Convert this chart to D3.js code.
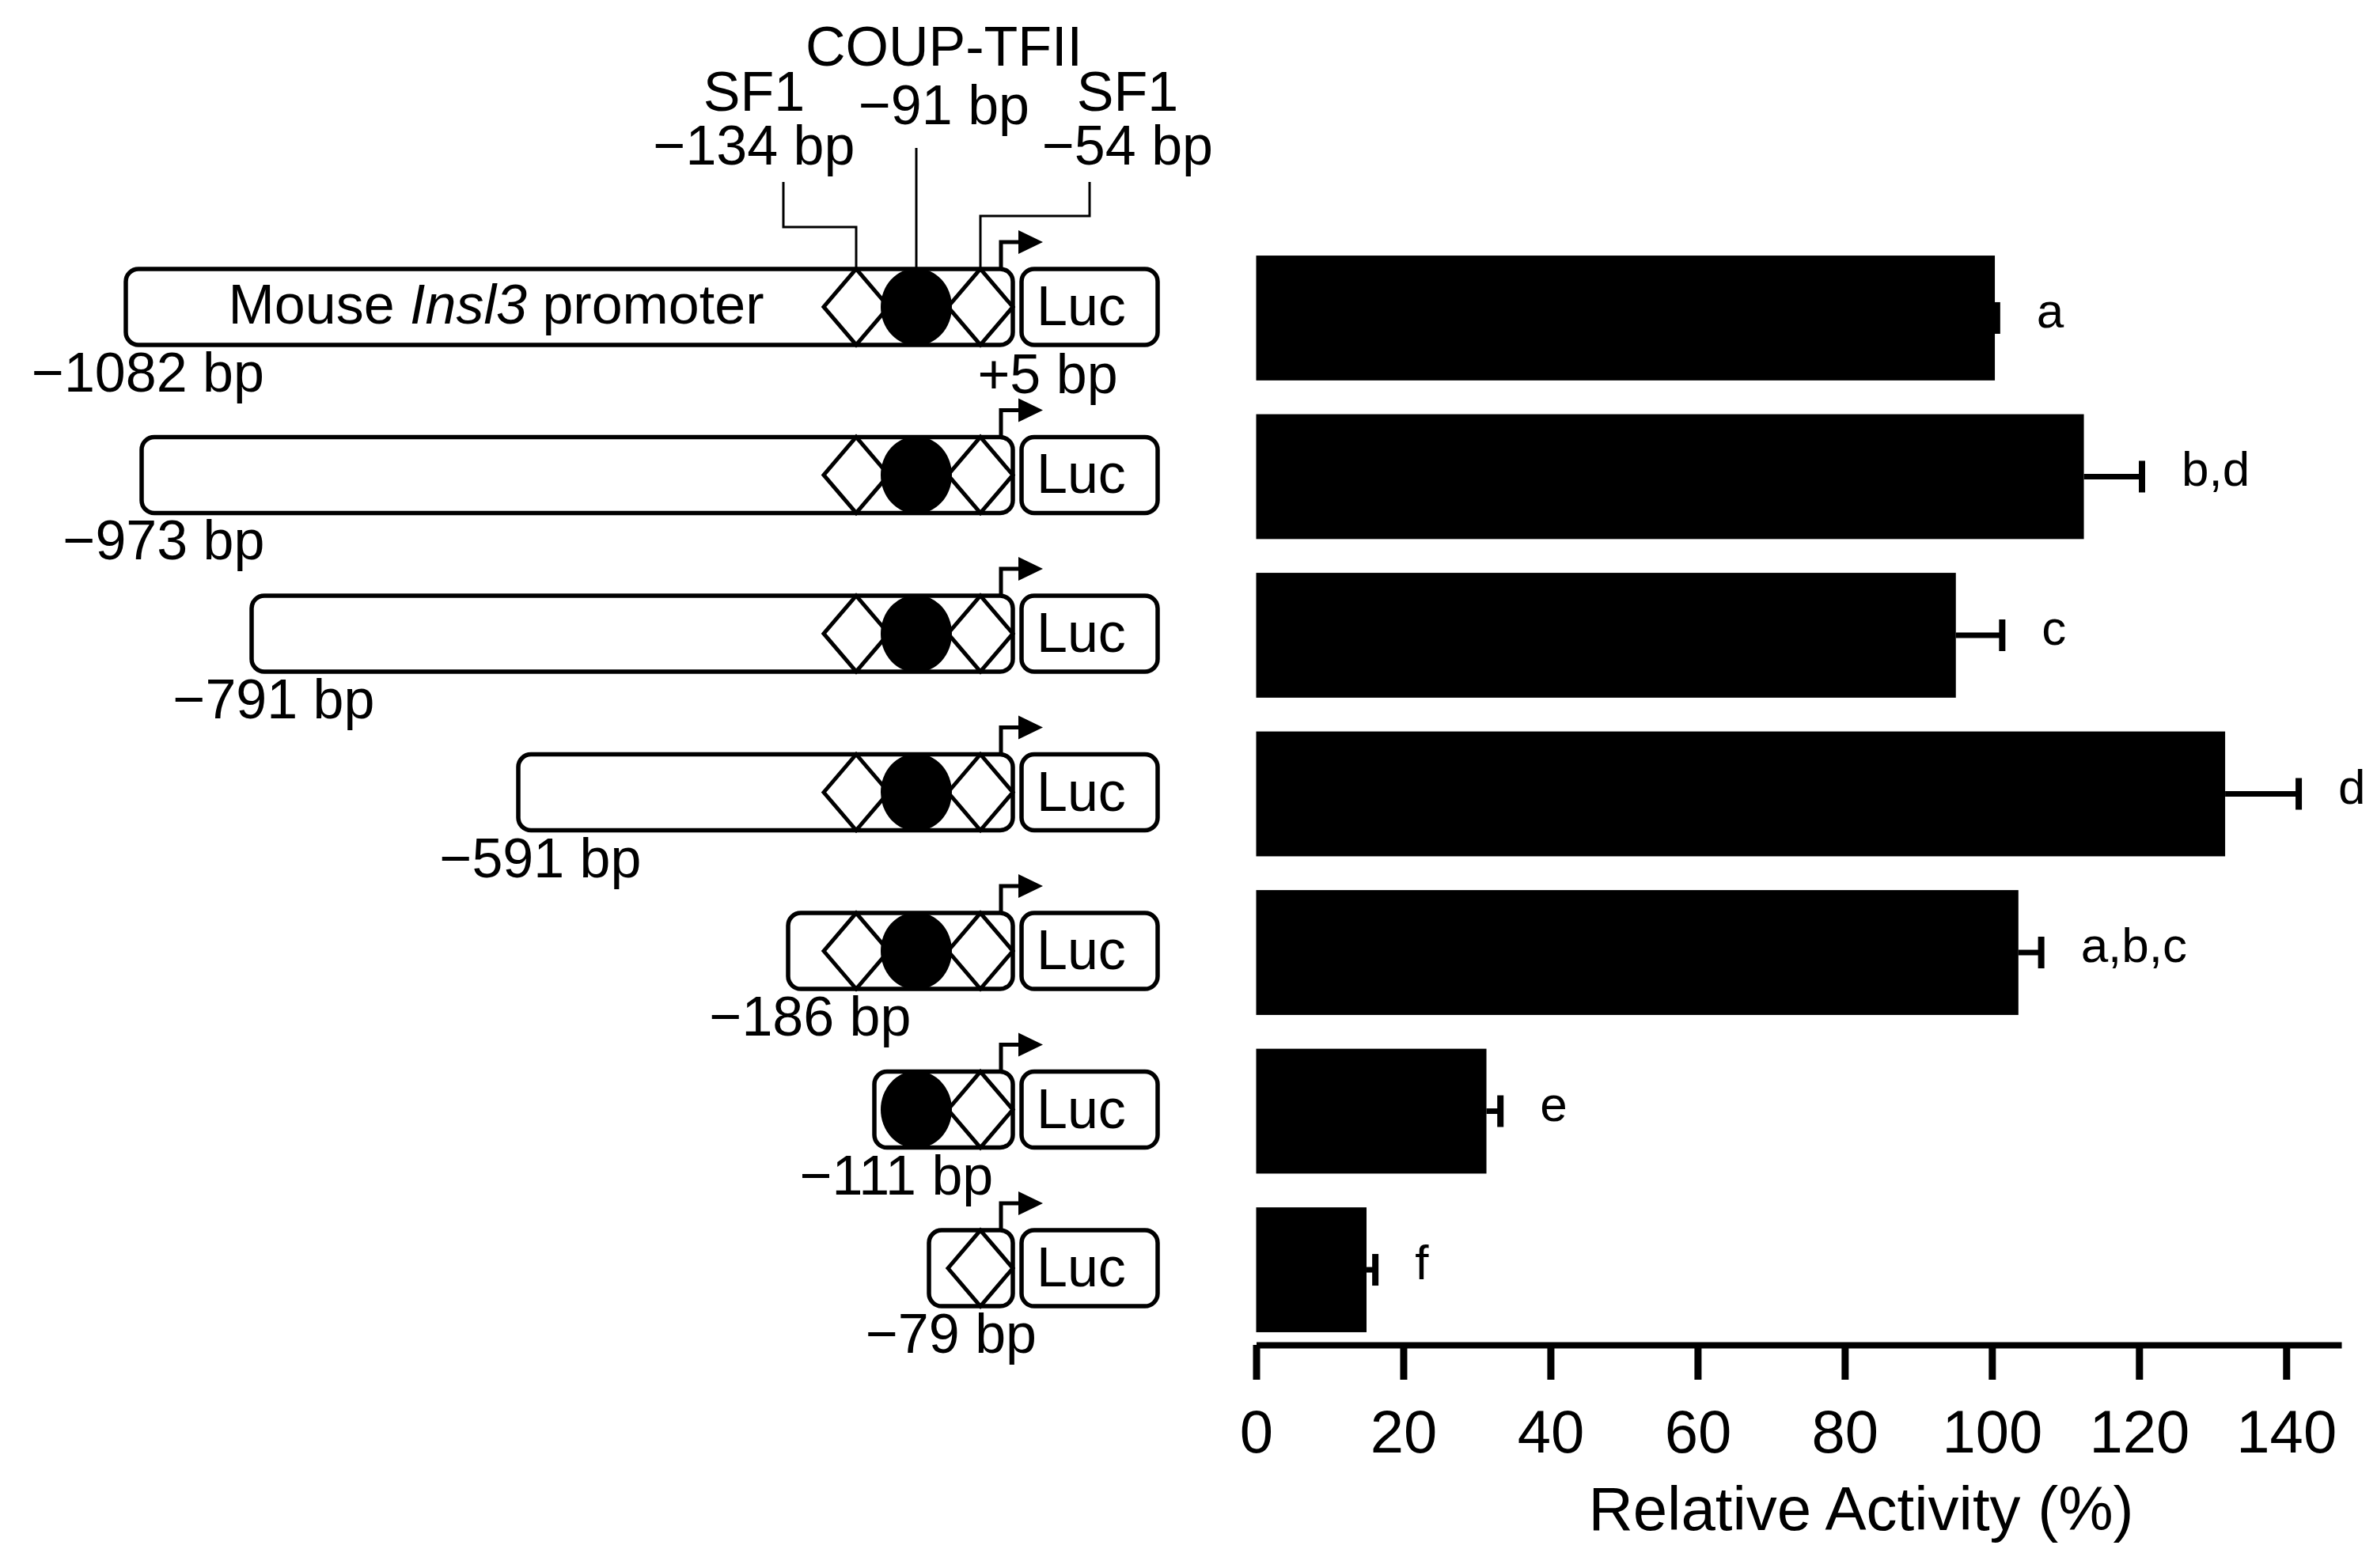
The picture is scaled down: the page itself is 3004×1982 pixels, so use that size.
<!DOCTYPE html>
<html>
<head>
<meta charset="utf-8">
<script src="https://cdn.jsdelivr.net/npm/d3@7"></script>
<style>
  body { margin: 0; background: #fff; }
  svg { display: block; font-family: "Liberation Sans", Arial, Helvetica, sans-serif; }
</style>
</head>
<body>
<svg id="chart" width="3004" height="1982"></svg>
<script>
// promoter deletion constructs (5' end, bp) and their luciferase activity
var startBp = [-1082, -973, -791, -591, -186, -111, -79]
var endBp = 5
var activity = [100.4, 112.5, 95.1, 131.7, 103.6, 31.3, 15.0]
var sem = [0.3, 7.9, 6.3, 10.0, 3.1, 1.9, 1.2]
var groups = ['a', 'b,d', 'c', 'd', 'a,b,c', 'e', 'f']
var xTicks = [0, 20, 40, 60, 80, 100, 120, 140]

// binding sites
var siteNames = ['SF1', 'COUP-TFII', 'SF1']
var siteBp = [-134, -91, -54]
var siteShape = ['diamond', 'ellipse', 'diamond']

var svg = d3.select('#chart')
svg.append('rect').attr('width', 3004).attr('height', 1982).attr('fill', '#fff')

var minus = '\u2212'
function bpText(v) { return (v < 0 ? minus : '+') + Math.abs(v) + ' bp' }

// schematic (not to scale) bp -> x mapping
var anchors = startBp.concat(siteBp).concat([endBp]).sort(function(a, b) { return a - b })
var bpScale = d3.scaleLinear()
  .domain(anchors)
  .range([159, 179, 318, 655, 996, 1082, 1105, 1158, 1174, 1239, 1280])

var y = d3.scaleBand()
  .domain(d3.range(startBp.length))
  .range([307, 1700])
  .paddingInner(0.213)
  .paddingOuter(0.08)

var x = d3.scaleLinear().domain([0, 147.5]).range([1587.5, 2959])

function rowY(i) { return y(i) + y.bandwidth() / 2 - (i === 0 ? 14 : 2) }

var boxH = 96, boxR = 16
var lucX = bpScale(endBp) + 11, lucW = 172
var diaHW = 41, ellRX = 45, ellRY = 49

// ---------- promoter constructs ----------
var rows = svg.append('g').selectAll('g.row')
  .data(startBp)
  .enter().append('g').attr('class', 'row')
  .attr('transform', function(d, i) { return 'translate(0,' + rowY(i) + ')' })

rows.append('rect')
  .attr('x', function(d) { return bpScale(d) })
  .attr('y', -boxH / 2)
  .attr('width', function(d) { return bpScale(endBp) - bpScale(d) })
  .attr('height', boxH)
  .attr('rx', boxR)
  .attr('fill', '#fff').attr('stroke', '#000').attr('stroke-width', 5.5)

rows.append('rect')
  .attr('x', lucX).attr('y', -boxH / 2)
  .attr('width', lucW).attr('height', boxH)
  .attr('rx', boxR)
  .attr('fill', '#fff').attr('stroke', '#000').attr('stroke-width', 5.5)

rows.append('text')
  .attr('x', lucX + 19).attr('y', 23)
  .attr('font-size', 70)
  .text('Luc')

rows.each(function(start) {
  var g = d3.select(this)
  var present = d3.range(siteBp.length).filter(function(k) { return siteBp[k] >= start })
  present.filter(function(k) { return siteShape[k] === 'diamond' }).forEach(function(k) {
    var cx = bpScale(siteBp[k]), hh = boxH / 2
    g.append('path')
      .attr('d', 'M' + (cx - diaHW) + ',0L' + cx + ',' + (-hh) + 'L' + (cx + diaHW) + ',0L' + cx + ',' + hh + 'Z')
      .attr('fill', '#fff').attr('stroke', '#000').attr('stroke-width', 5)
  })
  present.filter(function(k) { return siteShape[k] === 'ellipse' }).forEach(function(k) {
    g.append('ellipse')
      .attr('cx', bpScale(siteBp[k])).attr('cy', 0)
      .attr('rx', ellRX).attr('ry', ellRY)
      .attr('fill', '#000')
  })
})

// transcription start arrow
var arX = 1265, arTop = -boxH / 2 - 34
rows.append('path')
  .attr('d', 'M' + arX + ',' + (-boxH / 2) + 'V' + arTop + 'H1290')
  .attr('fill', 'none').attr('stroke', '#000').attr('stroke-width', 5)
rows.append('path')
  .attr('d', 'M1287,' + (arTop - 15) + 'L1318,' + arTop + 'L1287,' + (arTop + 15) + 'Z')
  .attr('fill', '#000')

rows.append('text')
  .attr('x', function(d) { return bpScale(d) + 28 })
  .attr('y', 107)
  .attr('text-anchor', 'middle')
  .attr('font-size', 70)
  .text(function(d) { return bpText(d) })

// first construct: label inside and +5 bp
var first = d3.select(rows.nodes()[0])
var lab = first.append('text')
  .attr('x', 627).attr('y', 21)
  .attr('text-anchor', 'middle')
  .attr('font-size', 70)
lab.append('tspan').text('Mouse ')
lab.append('tspan').attr('font-style', 'italic').text('Insl3')
lab.append('tspan').text(' promoter')

first.append('text')
  .attr('x', 1324).attr('y', 109)
  .attr('text-anchor', 'middle')
  .attr('font-size', 70)
  .text(bpText(endBp))

// site annotations above first construct
var boxTop = rowY(0) - boxH / 2
var annX = [953, 1193, 1425]
var nameY = [140, 83, 140]
var posY = [208, 157, 208]
var lineTop = [230, 187, 230]
var elbowX = [990, null, 1377]
var elbowY = [287, null, 273]

var ann = svg.append('g')
siteNames.forEach(function(name, k) {
  ann.append('text').attr('x', annX[k]).attr('y', nameY[k])
    .attr('text-anchor', 'middle').attr('font-size', 70).text(name)
  ann.append('text').attr('x', annX[k]).attr('y', posY[k])
    .attr('text-anchor', 'middle').attr('font-size', 70).text(bpText(siteBp[k]))
  var sx = bpScale(siteBp[k])
  var d = elbowX[k] === null
    ? 'M' + sx + ',' + lineTop[k] + 'V' + boxTop
    : 'M' + elbowX[k] + ',' + lineTop[k] + 'V' + elbowY[k] + 'H' + sx + 'V' + boxTop
  ann.append('path').attr('d', d)
    .attr('fill', 'none').attr('stroke', '#000').attr('stroke-width', 3)
})

// ---------- bar chart ----------
var bars = svg.append('g')
bars.selectAll('rect.bar')
  .data(activity)
  .enter().append('rect').attr('class', 'bar')
  .attr('x', x(0))
  .attr('y', function(d, i) { return y(i) })
  .attr('width', function(d) { return x(d) - x(0) })
  .attr('height', y.bandwidth())
  .attr('fill', '#000')

var cy = function(i) { return y(i) + y.bandwidth() / 2 }

bars.selectAll('line.err')
  .data(activity)
  .enter().append('line').attr('class', 'err')
  .attr('x1', function(d) { return x(d) })
  .attr('x2', function(d, i) { return x(d + sem[i]) })
  .attr('y1', function(d, i) { return cy(i) })
  .attr('y2', function(d, i) { return cy(i) })
  .attr('stroke', '#000').attr('stroke-width', 7)

bars.selectAll('line.cap')
  .data(activity)
  .enter().append('line').attr('class', 'cap')
  .attr('x1', function(d, i) { return x(d + sem[i]) })
  .attr('x2', function(d, i) { return x(d + sem[i]) })
  .attr('y1', function(d, i) { return cy(i) - 20 })
  .attr('y2', function(d, i) { return cy(i) + 20 })
  .attr('stroke', '#000').attr('stroke-width', 8)

bars.selectAll('text.grp')
  .data(groups)
  .enter().append('text').attr('class', 'grp')
  .attr('x', function(d, i) { return x(activity[i] + sem[i]) + 50 })
  .attr('y', function(d, i) { return cy(i) + 12 })
  .attr('font-size', 62)
  .text(function(d) { return d })

var axis = svg.append('g')
  .attr('transform', 'translate(0,1700)')
  .call(d3.axisBottom(x).tickValues(xTicks).tickSize(44).tickSizeOuter(0).tickPadding(38))
axis.select('.domain').attr('stroke-width', 8)
axis.selectAll('.tick line').attr('stroke-width', 9)
axis.selectAll('.tick text')
  .attr('font-size', 76)
  .attr('font-family', '"Liberation Sans", Arial, Helvetica, sans-serif')
  .attr('fill', '#000')

svg.append('text')
  .attr('x', 2352).attr('y', 1934)
  .attr('text-anchor', 'middle')
  .attr('font-size', 78)
  .text('Relative Activity (%)')
</script>
</body>
</html>
